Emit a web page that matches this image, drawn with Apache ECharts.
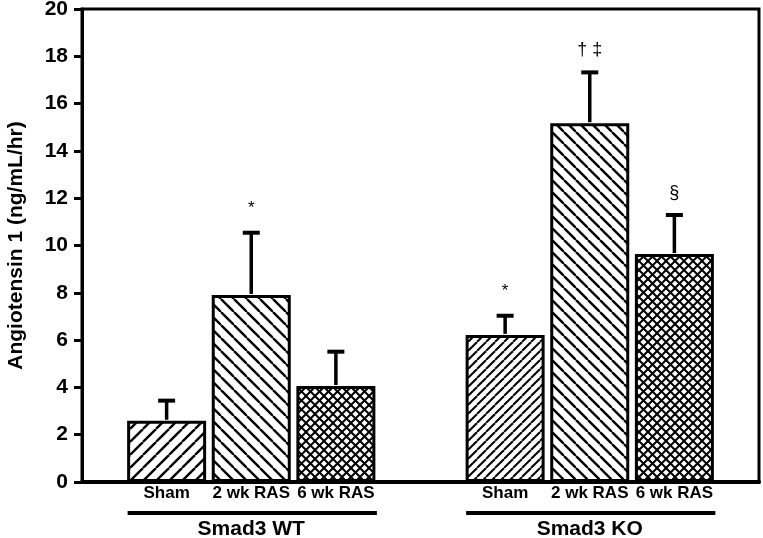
<!DOCTYPE html>
<html>
<head>
<meta charset="utf-8">
<script src="https://cdn.jsdelivr.net/npm/echarts@6/dist/echarts.min.js"></script>
<style>html,body{margin:0;padding:0;background:#fff}#c{width:763px;height:538px}</style>
</head>
<body>
<div id="c"></div>
<script>
// ---- data ----
var groups = ['Smad3 WT', 'Smad3 KO'];
var conditions = ['Sham', '2 wk RAS', '6 wk RAS'];
var wtMean = [2.59, 7.91, 4.06];
var wtUpper = [3.44, 10.54, 5.51];
var koMean = [6.22, 15.17, 9.64];
var koUpper = [7.03, 17.32, 11.29];
var wtMarks = ['', '*', ''];
var koMarks = ['*', '\u2020 \u2021', '\u00a7'];
var yTicks = [0, 2, 4, 6, 8, 10, 12, 14, 16, 18, 20];

// ---- patterns ----
function hatch(s, w, dir) {
  var c = document.createElement('canvas');
  c.width = s; c.height = s;
  var g = c.getContext('2d');
  g.fillStyle = '#fff'; g.fillRect(0, 0, s, s);
  g.strokeStyle = '#000'; g.lineWidth = w;
  function fwd() { for (var k = -1; k <= 1; k++) { g.beginPath(); g.moveTo(k * s, s); g.lineTo(k * s + s, 0); g.stroke(); } }
  function back() { for (var k = -1; k <= 1; k++) { g.beginPath(); g.moveTo(k * s, 0); g.lineTo(k * s + s, s); g.stroke(); } }
  if (dir === 'f') fwd();
  else if (dir === 'b') back();
  else { fwd(); back(); }
  return { image: c, repeat: 'repeat' };
}
var patWT = [hatch(13, 2.4, 'f'), hatch(13, 2.4, 'b'), hatch(9, 2, 'x')];
var patKO = [hatch(9, 2, 'f'), hatch(12, 2.4, 'b'), hatch(9, 2, 'x')];

// ---- build category axis (spacers between groups) ----
var cats = [''];
var barData = [null];
var errData = [];
var groupData = [];
[[wtMean, wtUpper, wtMarks, patWT], [koMean, koUpper, koMarks, patKO]].forEach(function (gset, gi) {
  var first = cats.length;
  conditions.forEach(function (cnd, ci) {
    var idx = cats.length;
    cats.push(cnd);
    barData.push({ value: gset[0][ci], itemStyle: { color: gset[3][ci] } });
    errData.push([idx, gset[0][ci], gset[1][ci], gset[2][ci]]);
  });
  groupData.push([first, cats.length - 1, groups[gi]]);
  cats.push('');
  barData.push(null);
});

var FONT = '"Liberation Sans", Arial, sans-serif';
var chart = echarts.init(document.getElementById('c'), null, { renderer: 'canvas' });
chart.setOption({
  animation: false,
  backgroundColor: '#fff',
  grid: { left: 82, right: 4, top: 9, bottom: 56, outerBoundsMode: 'none', containLabel: false,
    show: true, borderColor: '#000', borderWidth: 3, backgroundColor: 'transparent' },
  xAxis: {
    type: 'category', data: cats, boundaryGap: false,
    axisLine: { lineStyle: { color: '#000', width: 4 } },
    axisTick: { show: false },
    axisLabel: { interval: 0, color: '#000', fontFamily: FONT, fontWeight: 'bold', fontSize: 17, margin: 3 },
    splitLine: { show: false }
  },
  yAxis: {
    type: 'value', min: yTicks[0], max: yTicks[yTicks.length - 1], interval: yTicks[1] - yTicks[0],
    name: 'Angiotensin 1 (ng/mL/hr)', nameLocation: 'middle', nameGap: 55,
    nameTextStyle: { color: '#000', fontFamily: FONT, fontWeight: 'bold', fontSize: 21 },
    axisLine: { show: true, lineStyle: { color: '#000', width: 3 } },
    axisTick: { show: true, length: 8, lineStyle: { color: '#000', width: 3 } },
    axisLabel: { color: '#000', fontFamily: FONT, fontWeight: 'bold', fontSize: 21, margin: 14 },
    splitLine: { show: false }
  },
  series: [
    {
      type: 'bar', data: barData, barWidth: 79,
      itemStyle: { borderColor: '#000', borderWidth: 3 }, z: 2
    },
    {
      type: 'custom', data: errData, z: 3, clip: false,
      renderItem: function (params, api) {
        var p0 = api.coord([api.value(0), api.value(1)]);
        var p1 = api.coord([api.value(0), api.value(2)]);
        var mark = errData[params.dataIndex][3];
        var ch = [
          { type: 'line', shape: { x1: p0[0], y1: p0[1] - 1, x2: p1[0], y2: p1[1] }, style: { stroke: '#000', lineWidth: 3.5 } },
          { type: 'line', shape: { x1: p1[0] - 8.5, y1: p1[1], x2: p1[0] + 8.5, y2: p1[1] }, style: { stroke: '#000', lineWidth: 4 } }
        ];
        if (mark) {
          ch.push({ type: 'text', x: p1[0], y: p1[1] - (mark === '*' ? 24 : 22),
            style: { text: mark, fill: '#000', font: (mark === '*' ? '17px ' : '18px ') + FONT, align: 'center', verticalAlign: 'middle' } });
        }
        return { type: 'group', children: ch };
      }
    },
    {
      type: 'custom', data: groupData, z: 3, clip: false,
      renderItem: function (params, api) {
        var a = api.coord([api.value(0), 0]);
        var b = api.coord([api.value(1), 0]);
        var m = api.coord([(api.value(0) + api.value(1)) / 2, 0]);
        return { type: 'group', children: [
          { type: 'line', shape: { x1: a[0] - 39, y1: a[1] + 31, x2: b[0] + 41, y2: b[1] + 31 }, style: { stroke: '#000', lineWidth: 4 } },
          { type: 'text', x: m[0], y: m[1] + 47, style: { text: groupData[params.dataIndex][2], fill: '#000', font: 'bold 21px ' + FONT, align: 'center', verticalAlign: 'middle' } }
        ] };
      }
    }
  ]
});
</script>
</body>
</html>
